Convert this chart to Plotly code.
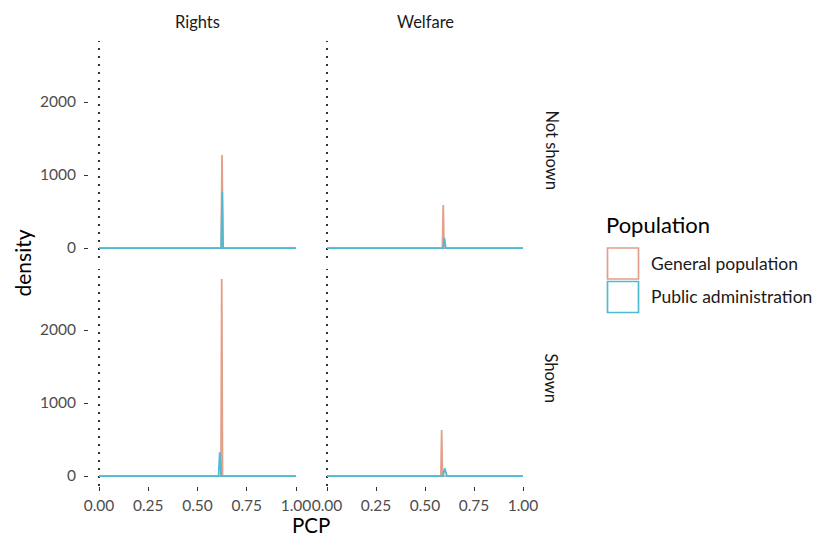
import plotly.graph_objects as go

# Facet levels and groups
policy_areas = ["Rights", "Welfare"]
exposure = ["Not shown", "Shown"]
populations = ["General population", "Public administration"]
pop_colors = ["#E2A089", "#4FBAD2"]

# Density curves over PCP (grid points, estimated density)
gen_rights_notshown_pcp = [0.0, 0.620, 0.6245, 0.629, 1.0]
gen_rights_notshown_density = [0, 0, 1274, 0, 0]
pub_rights_notshown_pcp = [0.0, 0.620, 0.6255, 0.630, 1.0]
pub_rights_notshown_density = [0, 0, 770, 0, 0]

gen_welfare_notshown_pcp = [0.0, 0.589, 0.593, 0.597, 1.0]
gen_welfare_notshown_density = [0, 0, 589, 0, 0]
pub_welfare_notshown_pcp = [0.0, 0.592, 0.599, 0.606, 1.0]
pub_welfare_notshown_density = [0, 0, 141, 0, 0]

gen_rights_shown_pcp = [0.0, 0.619, 0.623, 0.627, 1.0]
gen_rights_shown_density = [0, 0, 2699, 0, 0]
pub_rights_shown_pcp = [0.0, 0.607, 0.613, 0.620, 1.0]
pub_rights_shown_density = [0, 0, 325, 0, 0]

gen_welfare_shown_pcp = [0.0, 0.581, 0.585, 0.589, 1.0]
gen_welfare_shown_density = [0, 0, 630, 0, 0]
pub_welfare_shown_pcp = [0.0, 0.592, 0.600, 0.612, 1.0]
pub_welfare_shown_density = [0, 0, 105, 0, 0]

x_ticks = [0.0, 0.25, 0.5, 0.75, 1.0]
y_ticks = [0, 1000, 2000]

panels = {
    ("Not shown", "Rights"): [(gen_rights_notshown_pcp, gen_rights_notshown_density),
                              (pub_rights_notshown_pcp, pub_rights_notshown_density)],
    ("Not shown", "Welfare"): [(gen_welfare_notshown_pcp, gen_welfare_notshown_density),
                               (pub_welfare_notshown_pcp, pub_welfare_notshown_density)],
    ("Shown", "Rights"): [(gen_rights_shown_pcp, gen_rights_shown_density),
                          (pub_rights_shown_pcp, pub_rights_shown_density)],
    ("Shown", "Welfare"): [(gen_welfare_shown_pcp, gen_welfare_shown_density),
                           (pub_welfare_shown_pcp, pub_welfare_shown_density)],
}

W, H = 820, 538
FONT = "Lato"
TICK_FONT = dict(family=FONT, size=15.5, color="#4D4D4D")
STRIP_FONT = dict(family=FONT, size=16.5, color="#1A1A1A")

# panel geometry in pixels
col_px = [(89.15, 305.85), (317.2, 532.8)]
row_px = [(41.1, 257.9), (269.1, 485.9)]

ymax = max(max(d) for curves in panels.values() for _, d in curves)
y_range = [-0.05 * ymax, 1.05 * ymax]
x_range = [-0.05, 1.05]

fig = go.Figure()
layout = {}

for r, row_lab in enumerate(exposure):
    for c, col_lab in enumerate(policy_areas):
        idx = r * 2 + c + 1
        sfx = "" if idx == 1 else str(idx)
        xa, ya = "x" + sfx, "y" + sfx
        for (xs, ds), pop, col in zip(panels[(row_lab, col_lab)], populations, pop_colors):
            fig.add_trace(go.Scatter(x=xs, y=ds, mode="lines", name=pop,
                                     line=dict(color=col, width=1.8),
                                     xaxis=xa, yaxis=ya, showlegend=False,
                                     hoverinfo="skip"))
        bottom = r == 1
        left = c == 0
        layout["xaxis" + sfx] = dict(
            domain=[col_px[c][0] / W, col_px[c][1] / W], anchor=ya,
            range=x_range, showgrid=False, zeroline=False, showline=False,
            automargin=False,
            tickvals=x_ticks if bottom else [], tickformat=".2f",
            ticks="outside" if bottom else "", ticklen=4, tickwidth=1.1,
            tickcolor="#333333", showticklabels=bottom,
            ticklabelstandoff=1, tickfont=TICK_FONT,
        )
        layout["yaxis" + sfx] = dict(
            domain=[1 - row_px[r][1] / H, 1 - row_px[r][0] / H], anchor=xa,
            range=y_range, showgrid=False, zeroline=False, showline=False,
            automargin=False,
            tickvals=y_ticks if left else [],
            ticks="outside" if left else "", ticklen=4, tickwidth=1.1,
            tickcolor="#333333", showticklabels=left,
            ticklabelstandoff=5, tickfont=TICK_FONT,
        )
        # dotted reference line at PCP = 0
        fig.add_shape(type="line", xref=xa, yref=ya + " domain",
                      x0=0, x1=0, y0=0, y1=1,
                      line=dict(color="black", width=1.6, dash="2px,6px"),
                      layer="below")

annotations = []
# column strips
for c, lab in enumerate(policy_areas):
    annotations.append(dict(text=lab, xref="paper", yref="paper",
                            x=(col_px[c][0] + col_px[c][1]) / 2 / W, y=1 - 22 / H,
                            showarrow=False, xanchor="center", yanchor="middle",
                            font=STRIP_FONT))
# row strips
for r, lab in enumerate(exposure):
    annotations.append(dict(text=lab, xref="paper", yref="paper",
                            x=551 / W, y=1 - (row_px[r][0] + row_px[r][1]) / 2 / H,
                            showarrow=False, textangle=90,
                            xanchor="center", yanchor="middle",
                            font=STRIP_FONT))
# axis titles
annotations.append(dict(text="PCP", xref="paper", yref="paper",
                        x=(col_px[0][0] + col_px[1][1]) / 2 / W, y=1 - 525 / H,
                        showarrow=False, xanchor="center", yanchor="middle",
                        borderpad=0,
                        font=dict(family=FONT, size=20.5, color="black")))
annotations.append(dict(text="density", xref="paper", yref="paper",
                        x=22 / W, y=1 - (row_px[0][0] + row_px[1][1]) / 2 / H,
                        showarrow=False, textangle=-90,
                        xanchor="center", yanchor="middle",
                        font=dict(family=FONT, size=21, color="black")))
# legend
annotations.append(dict(text="Population", xref="paper", yref="paper",
                        x=604 / W, y=1 - 225 / H, showarrow=False,
                        xanchor="left", yanchor="middle",
                        font=dict(family=FONT, size=22, color="black")))
key_tops = [248, 281.5]
for top, pop, col in zip(key_tops, populations, pop_colors):
    fig.add_shape(type="rect", xref="paper", yref="paper",
                  x0=607.5 / W, x1=638.5 / W, y0=1 - (top + 31) / H, y1=1 - top / H,
                  line=dict(color=col, width=1.7), fillcolor="white")
    annotations.append(dict(text=pop, xref="paper", yref="paper",
                            x=649 / W, y=1 - (top + 15.5) / H, showarrow=False,
                            xanchor="left", yanchor="middle",
                            font=dict(family=FONT, size=17.5, color="#1A1A1A")))

fig.update_layout(**layout)
fig.update_layout(
    width=W, height=H, margin=dict(l=0, r=0, t=0, b=0),
    paper_bgcolor="white", plot_bgcolor="white",
    showlegend=False, annotations=annotations,
    font=dict(family=FONT),
)

fig.write_html("out.html")
